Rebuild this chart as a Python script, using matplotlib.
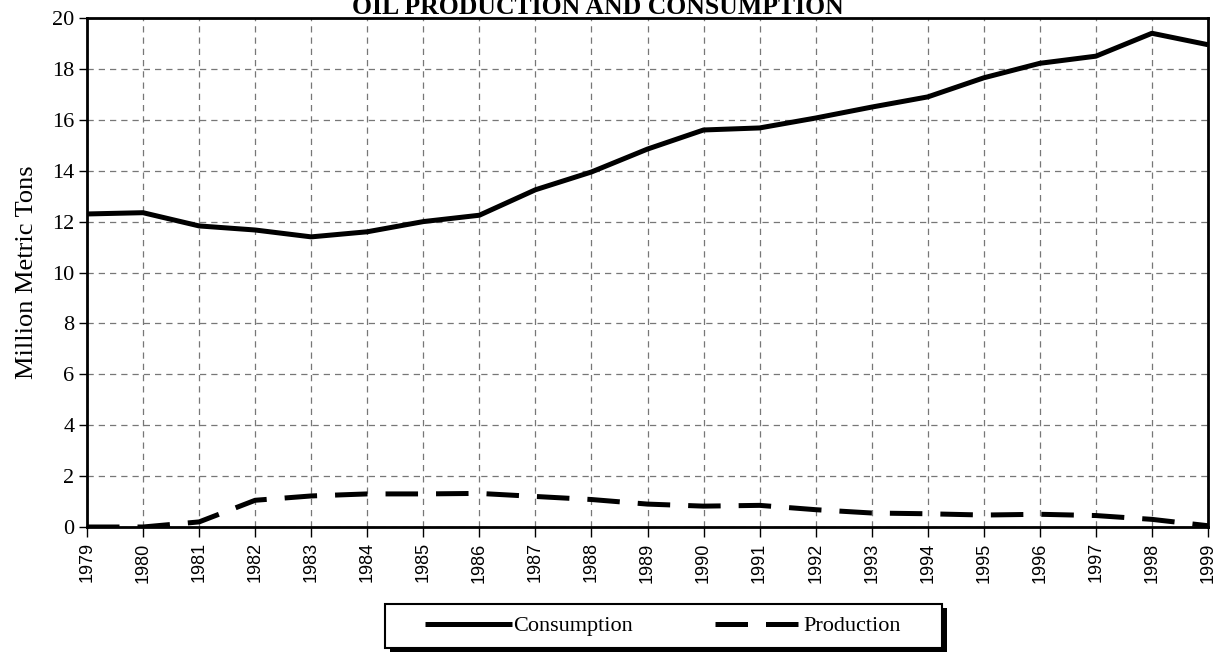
#!/usr/bin/env python3
"""Oil production and consumption, 1979-1999 (line chart)."""

import matplotlib
matplotlib.use("Agg")
import matplotlib.pyplot as plt
from matplotlib.patches import Rectangle

years = list(range(1979, 2000))
consumption = [12.3, 12.35, 11.83, 11.67, 11.4, 11.6, 12.0, 12.25, 13.25, 13.95,
               14.85, 15.6, 15.68, 16.07, 16.5, 16.9, 17.65, 18.22, 18.5, 19.4, 18.95]
production = [0.0, 0.0, 0.2, 1.05, 1.22, 1.3, 1.3, 1.32, 1.2, 1.08,
              0.9, 0.82, 0.85, 0.68, 0.55, 0.52, 0.47, 0.5, 0.45, 0.3, 0.05]

W, H = 1214, 652
fig = plt.figure(figsize=(W / 100, H / 100), dpi=100)
ax = fig.add_axes([87 / W, 1 - 527 / H, (1208 - 87) / W, (527 - 18) / H])

serif = "Liberation Serif"
sans = "Liberation Sans"

ax.plot(years, consumption, color="black", lw=3.6, solid_capstyle="butt",
        label="Consumption", zorder=3)
ax.plot(years, production, color="black", lw=3.6, linestyle=(0, (6.5, 3.6)),
        dash_capstyle="butt", label="Production", zorder=3)

ax.set_xlim(1979, 1999)
ax.set_ylim(0, 20)
ax.set_xticks(years)
ax.set_xticklabels([str(y) for y in years], rotation=90, fontfamily=sans, fontsize=13)
ax.set_yticks(range(0, 21, 2))
ax.set_yticklabels([str(v) for v in range(0, 21, 2)], fontfamily=serif, fontsize=16)

ax.grid(True, color="#777777", linestyle=(0, (5, 4)), linewidth=0.9)
ax.tick_params(axis="y", direction="out", length=6, width=1, pad=3)
ax.tick_params(axis="x", direction="out", length=7, width=1, pad=4)

for side in ["left", "bottom", "top", "right"]:
    ax.spines[side].set_linewidth(2)
    ax.spines[side].set_color("black")

ax.set_ylabel("Million Metric Tons", fontfamily=serif, fontsize=19, labelpad=10)
fig.text(598 / W, 1 - 7 / H, "OIL PRODUCTION AND CONSUMPTION", ha="center",
         va="center", fontfamily=serif, fontweight="bold", fontsize=18.5)

# legend box with a solid offset shadow, drawn in figure pixels
bx, by, bw, bh = 385, 604, 557, 44
fig.patches.append(Rectangle(((bx + 5) / W, 1 - (by + bh + 4) / H), bw / W, bh / H,
                             transform=fig.transFigure, facecolor="black",
                             edgecolor="none", zorder=1))
fig.patches.append(Rectangle((bx / W, 1 - (by + bh) / H), bw / W, bh / H,
                             transform=fig.transFigure, facecolor="white",
                             edgecolor="black", linewidth=1.5, zorder=2))

handles, labels = ax.get_legend_handles_labels()
leg = fig.legend(handles, labels, loc="center", bbox_to_anchor=(663 / W, 1 - 626 / H),
                 ncol=2, frameon=False, handlelength=3.9, handletextpad=0.05,
                 columnspacing=3.7, borderpad=0.2, prop={"family": serif, "size": 16})
leg.set_zorder(5)

fig.savefig("out.png", dpi=100)
